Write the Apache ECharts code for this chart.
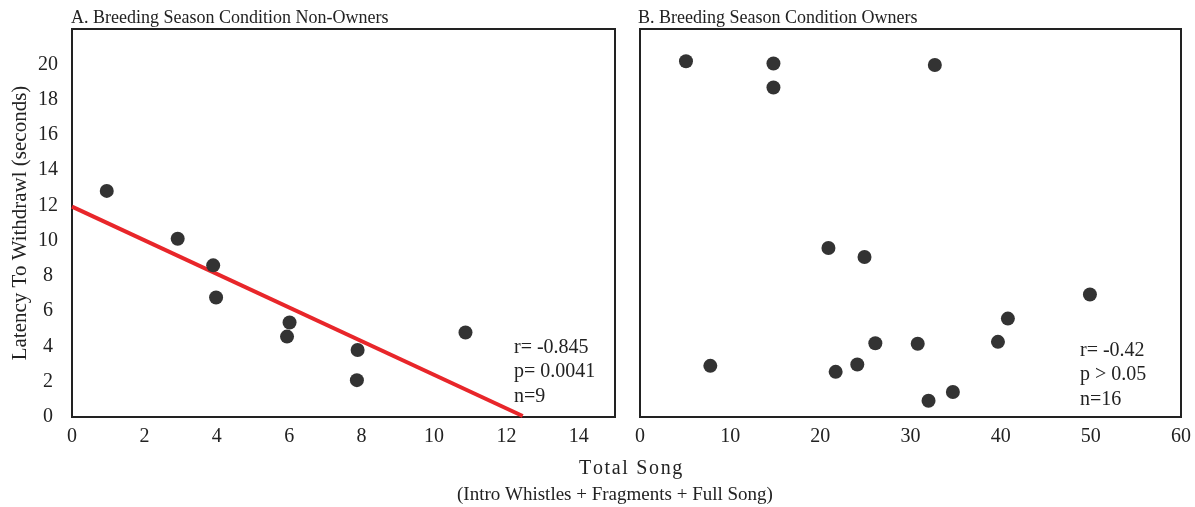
<!DOCTYPE html>
<html>
<head>
<meta charset="utf-8">
<script src="https://cdn.jsdelivr.net/npm/echarts@6/dist/echarts.min.js"></script>
<style>
  html,body{margin:0;padding:0;background:#fff;}
  #main{width:1195px;height:507px;}
</style>
</head>
<body>
<div id="main"></div>
<script>
// panel A: non-owners  [total song, latency]
var nonOwners = [
  [0.96, 12.82], [2.92, 10.11], [3.9, 8.6], [3.98, 6.78], [6.01, 5.36],
  [5.94, 4.56], [7.89, 3.8], [7.87, 2.09], [10.87, 4.79]
];
// fitted line end points as drawn
var fitA = [[0, 11.93], [12.45, 0.06]];
// panel B: owners
var owners = [
  [5.1, 20.17], [14.8, 20.04], [14.8, 18.68], [32.7, 19.96], [20.9, 9.58],
  [24.9, 9.07], [49.9, 6.95], [40.8, 5.58], [39.7, 4.26], [26.1, 4.18],
  [30.8, 4.15], [7.8, 2.9], [21.7, 2.56], [24.1, 2.98], [34.7, 1.42], [32.0, 0.92]
];
var statsA = ['r= -0.845', 'p= 0.0041', 'n=9'];
var statsB = ['r= -0.42', 'p > 0.05', 'n=16'];

var font = 'Liberation Serif';
var ink = '#222';
var dot = '#333';

var myChart = echarts.init(document.getElementById('main'));

function txt(s, left, top, size) {
  return {
    type: 'text', left: left, top: top,
    style: { text: s, font: size + 'px "' + font + '"', fill: ink }
  };
}
function statText(lines, left, top) {
  return lines.map(function (s, i) { return txt(s, left, top + i * 24.5, 20); });
}
// slight tracking on the axis title
var xName1 = 'Total Song'.split('').join('\u200A');
var xName2 = '(Intro Whistles + Fragments + Full Song)';

var option = {
  backgroundColor: '#fff',
  animation: false,
  textStyle: { fontFamily: font },
  title: [
    { text: 'A. Breeding Season Condition Non-Owners', left: 66, top: 4,
      textStyle: { fontFamily: font, fontSize: 18, fontWeight: 'normal', color: ink } },
    { text: 'B. Breeding Season Condition Owners', left: 633, top: 4,
      textStyle: { fontFamily: font, fontSize: 18, fontWeight: 'normal', color: ink } }
  ],
  grid: [
    { left: 72, top: 29, width: 543, height: 388, show: true,
      borderColor: ink, borderWidth: 2, backgroundColor: 'transparent' },
    { left: 640, top: 29, width: 541, height: 388, show: true,
      borderColor: ink, borderWidth: 2, backgroundColor: 'transparent' }
  ],
  xAxis: [
    { gridIndex: 0, type: 'value', min: 0, max: 15, interval: 2,
      splitLine: { show: false }, axisTick: { show: false },
      axisLine: { show: false },
      axisLabel: { showMaxLabel: false, margin: 10, fontSize: 20, color: ink, fontFamily: font } },
    { gridIndex: 1, type: 'value', min: 0, max: 60, interval: 10,
      splitLine: { show: false }, axisTick: { show: false },
      axisLine: { show: false },
      axisLabel: { margin: 10, fontSize: 20, color: ink, fontFamily: font } }
  ],
  yAxis: [
    { gridIndex: 0, type: 'value', min: 0, max: 22, interval: 2,
      name: 'Latency To Withdrawl (seconds)', nameLocation: 'middle', nameGap: 41,
      nameTextStyle: { fontSize: 21, color: ink, fontFamily: font },
      splitLine: { show: false }, axisTick: { show: false },
      axisLine: { show: false },
      axisLabel: { showMaxLabel: false, margin: 24, align: 'center', fontSize: 20, color: ink, fontFamily: font } },
    { gridIndex: 1, type: 'value', min: 0, max: 22, interval: 2,
      splitLine: { show: false }, axisTick: { show: false },
      axisLine: { show: false }, axisLabel: { show: false } }
  ],
  series: [
    { type: 'line', xAxisIndex: 0, yAxisIndex: 0, data: fitA, symbol: 'none',
      lineStyle: { color: '#e8262a', width: 4 }, z: 1 },
    { type: 'scatter', xAxisIndex: 0, yAxisIndex: 0, data: nonOwners,
      symbolSize: 14, itemStyle: { color: dot, opacity: 1 }, z: 2 },
    { type: 'scatter', xAxisIndex: 1, yAxisIndex: 1, data: owners,
      symbolSize: 14, itemStyle: { color: dot, opacity: 1 }, z: 2 }
  ],
  graphic: statText(statsA, 514, 337.5)
    .concat(statText(statsB, 1080, 340.5))
    .concat([txt(xName1, 579, 459, 20), txt(xName2, 457, 485.5, 19)])
};

myChart.setOption(option);
</script>
</body>
</html>
